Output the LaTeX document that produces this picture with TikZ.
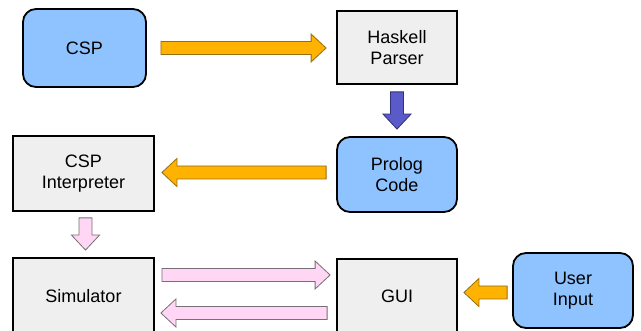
\documentclass[tikz,border=0pt]{standalone}
\usepackage{fontspec}
\setmainfont{Liberation Sans}
\usetikzlibrary{calc}

\definecolor{boxblue}{RGB}{142,195,255}
\definecolor{boxgray}{RGB}{239,239,239}
\definecolor{flowor}{RGB}{255,178,0}
\definecolor{flowordark}{RGB}{150,110,20}
\definecolor{flowpu}{RGB}{90,90,200}
\definecolor{flowpudark}{RGB}{50,50,120}
\definecolor{flowpk}{RGB}{255,214,244}
\definecolor{flowpkdark}{RGB}{120,110,120}

% shaft half-width, head half-width, head length
\def\shw{6.5pt}
\def\hdw{14pt}
\def\hdl{15pt}

% block arrow from #2 (tail) to #3 (tip); (#4,#5) is the unit direction on the page
\newcommand\blockarrow[5]{%
  \path[#1] let \p1=(#2), \p2=(#3) in
    ({\x1-(#5)*\shw},{\y1+(#4)*\shw})
 -- ({\x2-(#4)*\hdl-(#5)*\shw},{\y2-(#5)*\hdl+(#4)*\shw})
 -- ({\x2-(#4)*\hdl-(#5)*\hdw},{\y2-(#5)*\hdl+(#4)*\hdw})
 -- (\x2,\y2)
 -- ({\x2-(#4)*\hdl+(#5)*\hdw},{\y2-(#5)*\hdl-(#4)*\hdw})
 -- ({\x2-(#4)*\hdl+(#5)*\shw},{\y2-(#5)*\hdl-(#4)*\shw})
 -- ({\x1+(#5)*\shw},{\y1-(#4)*\shw})
 -- cycle;}

\tikzset{
  box/.style={draw=black, line width=1.8pt, align=center, inner sep=0pt,
    font=\fontsize{18}{20.7}\selectfont},
  plainbox/.style={box, fill=boxgray},
  roundbox/.style={box, fill=boxblue, rounded corners=13pt},
  orflow/.style={fill=flowor, draw=flowordark, line width=0.8pt, line join=miter},
  puflow/.style={fill=flowpu, draw=flowpudark, line width=0.8pt},
  pkflow/.style={fill=flowpk, draw=flowpkdark, line width=0.8pt},
}

\begin{document}
\begin{tikzpicture}[x=1pt, y=-1pt]
\useasboundingbox (0,0) rectangle (641,331);
\clip (0,0) rectangle (641,331);

\node[roundbox, minimum width=123pt, minimum height=78pt] (csp) at (84.5,48) {CSP};
\node[plainbox, minimum width=120pt, minimum height=73pt] (haskell) at (397,47.5) {Haskell\\Parser};
\node[roundbox, minimum width=120pt, minimum height=75pt] (prolog) at (397,174.5) {Prolog\\Code};
\node[plainbox, minimum width=141pt, minimum height=75pt] (interp) at (83.5,173.5) {CSP\\Interpreter};
\node[plainbox, minimum width=141pt, minimum height=76pt] (sim) at (83.5,296) {Simulator};
\node[plainbox, minimum width=120pt, minimum height=75pt] (gui) at (397,296.5) {GUI};
\node[roundbox, minimum width=120pt, minimum height=75pt] (user) at (573,290.5) {User\\Input};

% connector end points
\coordinate (a1s) at ($(csp.east)+(14,0)$);
\coordinate (a1e) at ($(haskell.west|-a1s)+(-10,0)$);
\coordinate (a2s) at ($(haskell.south)+(0,7)$);
\coordinate (a2e) at ($(prolog.north)+(0,-7)$);
\coordinate (a3s) at ($(prolog.west)+(-10,-2)$);
\coordinate (a3e) at ($(interp.east|-a3s)+(7,0)$);
\coordinate (a4s) at ($(interp.south)+(2,6)$);
\coordinate (a4e) at ($(sim.north)+(2,-7)$);
\coordinate (a5s) at ($(sim.east)+(7,-21)$);
\coordinate (a5e) at ($(gui.west|-a5s)+(-6,0)$);
\coordinate (a6s) at ($(gui.west)+(-9,16.5)$);
\coordinate (a6e) at ($(sim.east|-a6s)+(6,0)$);
\coordinate (a7s) at ($(user.west)+(-5,2)$);
\coordinate (a7e) at ($(gui.east|-a7s)+(6,0)$);

\blockarrow{orflow}{a1s}{a1e}{1}{0}
\blockarrow{puflow}{a2s}{a2e}{0}{-1}
\blockarrow{orflow}{a3s}{a3e}{-1}{0}
\blockarrow{pkflow}{a4s}{a4e}{0}{-1}
\blockarrow{pkflow}{a5s}{a5e}{1}{0}
\blockarrow{pkflow}{a6s}{a6e}{-1}{0}
\blockarrow{orflow}{a7s}{a7e}{-1}{0}
\end{tikzpicture}
\end{document}
